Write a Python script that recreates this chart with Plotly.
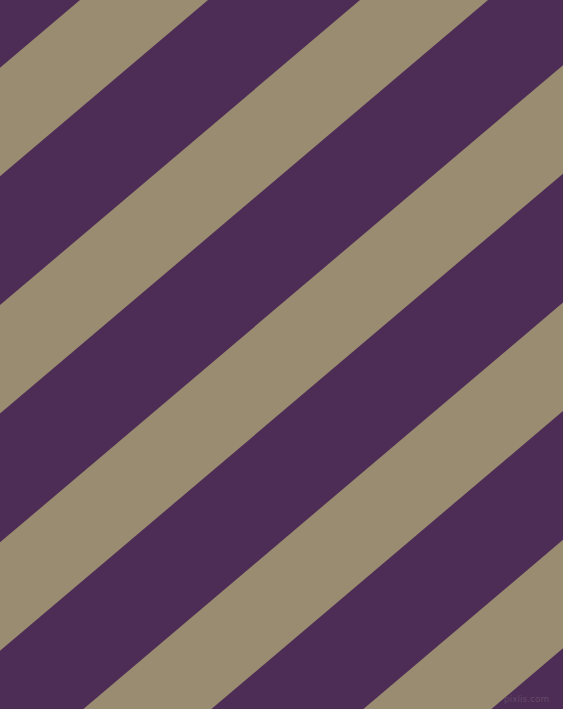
import plotly.graph_objects as go

# canvas size in pixels
width_px = 563
height_px = 709

# tan stripes: where each stripe's upper edge meets the top border (x at y=0)
stripe_starts = [80, 360, 640, 920, 1200]
stripe_width = 128      # horizontal width of a tan stripe
edge_slope = 1.18       # x shift per pixel of y along a stripe edge

purple = '#4d2c55'
tan = '#9a8c70'


def stripe_trace(start):
    y_top, y_bot = -20, height_px + 20
    xs = [start - edge_slope * y_top,
          start + stripe_width - edge_slope * y_top,
          start + stripe_width - edge_slope * y_bot,
          start - edge_slope * y_bot,
          start - edge_slope * y_top]
    ys = [y_top, y_top, y_bot, y_bot, y_top]
    return go.Scatter(
        x=xs, y=ys,
        mode='lines',
        fill='toself',
        fillcolor=tan,
        line={'width': 0, 'color': tan},
        hoverinfo='skip',
        showlegend=False,
    )


fig = go.Figure([stripe_trace(s) for s in stripe_starts])

fig.update_layout(
    width=width_px,
    height=height_px,
    margin={'l': 0, 'r': 0, 't': 0, 'b': 0},
    paper_bgcolor=purple,
    plot_bgcolor=purple,
    xaxis={'range': [0, width_px], 'visible': False, 'fixedrange': True},
    yaxis={'range': [height_px, 0], 'visible': False, 'fixedrange': True},
    annotations=[{
        'text': 'pixlis.com',
        'x': 551, 'y': 699,
        'xref': 'x', 'yref': 'y',
        'xanchor': 'right', 'yanchor': 'middle',
        'showarrow': False,
        'font': {'family': 'DejaVu Sans', 'size': 9, 'color': '#634b69'},
    }],
)

# page body has an 8px default margin; drop it so the chart fills the window
fig.write_html(
    'out.html',
    config={'displayModeBar': False},
    post_script="document.body.style.margin='0';"
                "document.body.style.overflow='hidden';"
                "document.body.style.background='" + purple + "';",
)
